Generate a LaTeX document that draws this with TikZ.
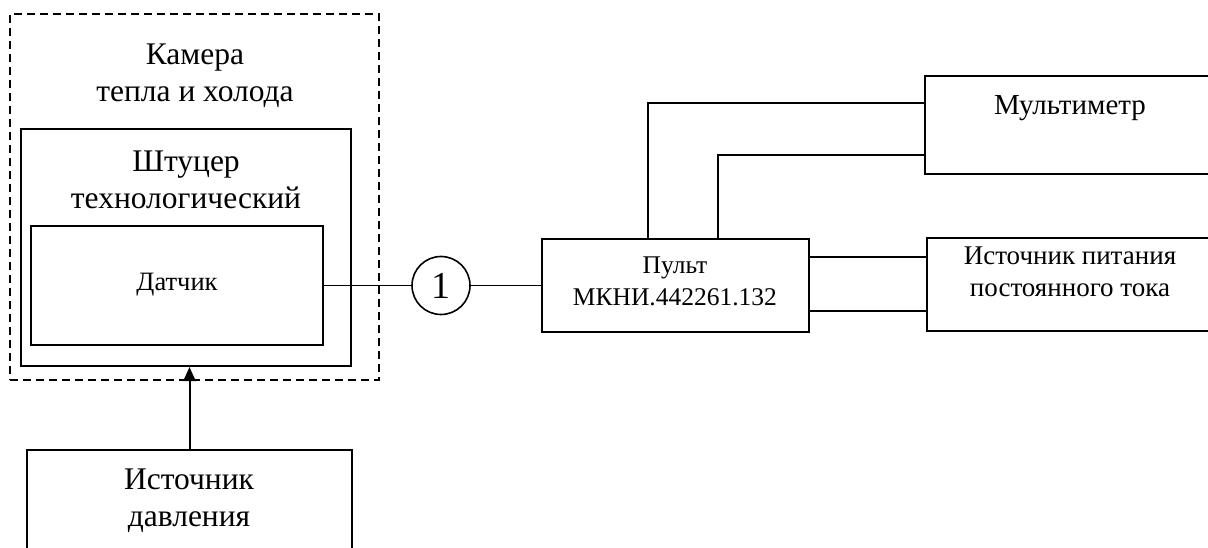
\documentclass[tikz,border=0pt]{standalone}
\usepackage{fontspec}
\setmainfont{Liberation Serif}
\usetikzlibrary{arrows.meta}
\begin{document}
\begin{tikzpicture}[x=1pt,y=-1pt,
  box/.style={draw, line width=2pt, inner sep=0pt},
  wire/.style={line width=1.6pt},
  bigtext/.style={font=\fontsize{31.5}{37}\selectfont, align=center, inner sep=0pt},
  multtext/.style={font=\fontsize{29}{32}\selectfont, align=center, inner sep=0pt},
  pittext/.style={font=\fontsize{27}{32}\selectfont, align=center, inner sep=0pt},
  pulttext/.style={font=\fontsize{25.5}{32}\selectfont, align=center, inner sep=0pt},
  dattext/.style={font=\fontsize{26.5}{32}\selectfont, align=center, inner sep=0pt}]
\useasboundingbox (0,0) rectangle (1208,548);
\begin{scope}
\clip (0,0) rectangle (1208,548);
% boxes
\node[draw, line width=1.6pt, dash pattern=on 8pt off 5pt, inner sep=0pt,
      minimum width=369, minimum height=366] (cam) at (194.5,197) {};
\node[box, minimum width=330, minimum height=237] (sht) at (186,247.5) {};
\node[box, minimum width=292, minimum height=119] (dat) at (177,285.5) {};
\node[box, minimum width=267, minimum height=92] (pult) at (675,285.5) {};
\node[box, minimum width=300, minimum height=98] (mult) at (1075,125) {};
\node[box, minimum width=300, minimum height=93] (pit) at (1077,284.5) {};
\node[box, minimum width=325, minimum height=130] (dav) at (189.5,515) {};
\node[draw, circle, line width=1.6pt, minimum size=58, inner sep=0pt,
      font=\fontsize{38}{38}\selectfont] (c1) at (441,285.5) {1};
% texts
\node[bigtext] (camt) at (195,76) {Камера\\тепла и холода};
\node[bigtext] (shtt) at (186,180) {Штуцер\\технологический};
\node[dattext] (datt) at (177,285) {Датчик};
\node[pulttext] (pultt) at (675,281) {Пульт\\МКНИ.442261.132};
\node[multtext] (multt) at (1070,108) {Мультиметр};
\node[pittext] (pitt) at (1070,272) {Источник питания\\постоянного тока};
\node[bigtext] (davt) at (189,501) {Источник\\давления};
% connectors
\draw[wire] (dat.east) -- (c1.west);
\draw[wire] (c1.east) -- (pult.west);
\coordinate (m1) at (648,103);
\coordinate (m2) at (718,155);
\draw[wire] (pult.north -| m1) |- (mult.west |- m1);
\draw[wire] (pult.north -| m2) |- (mult.west |- m2);
\coordinate (p1) at (808,257);
\coordinate (p2) at (808,311);
\draw[wire] (pult.east |- p1) -- (pit.west |- p1);
\draw[wire] (pult.east |- p2) -- (pit.west |- p2);
\draw[line width=2pt, -{Triangle[length=14pt,width=12pt]}] (dav.north) -- (dav.north |- sht.south);
\end{scope}
\end{tikzpicture}
\end{document}
